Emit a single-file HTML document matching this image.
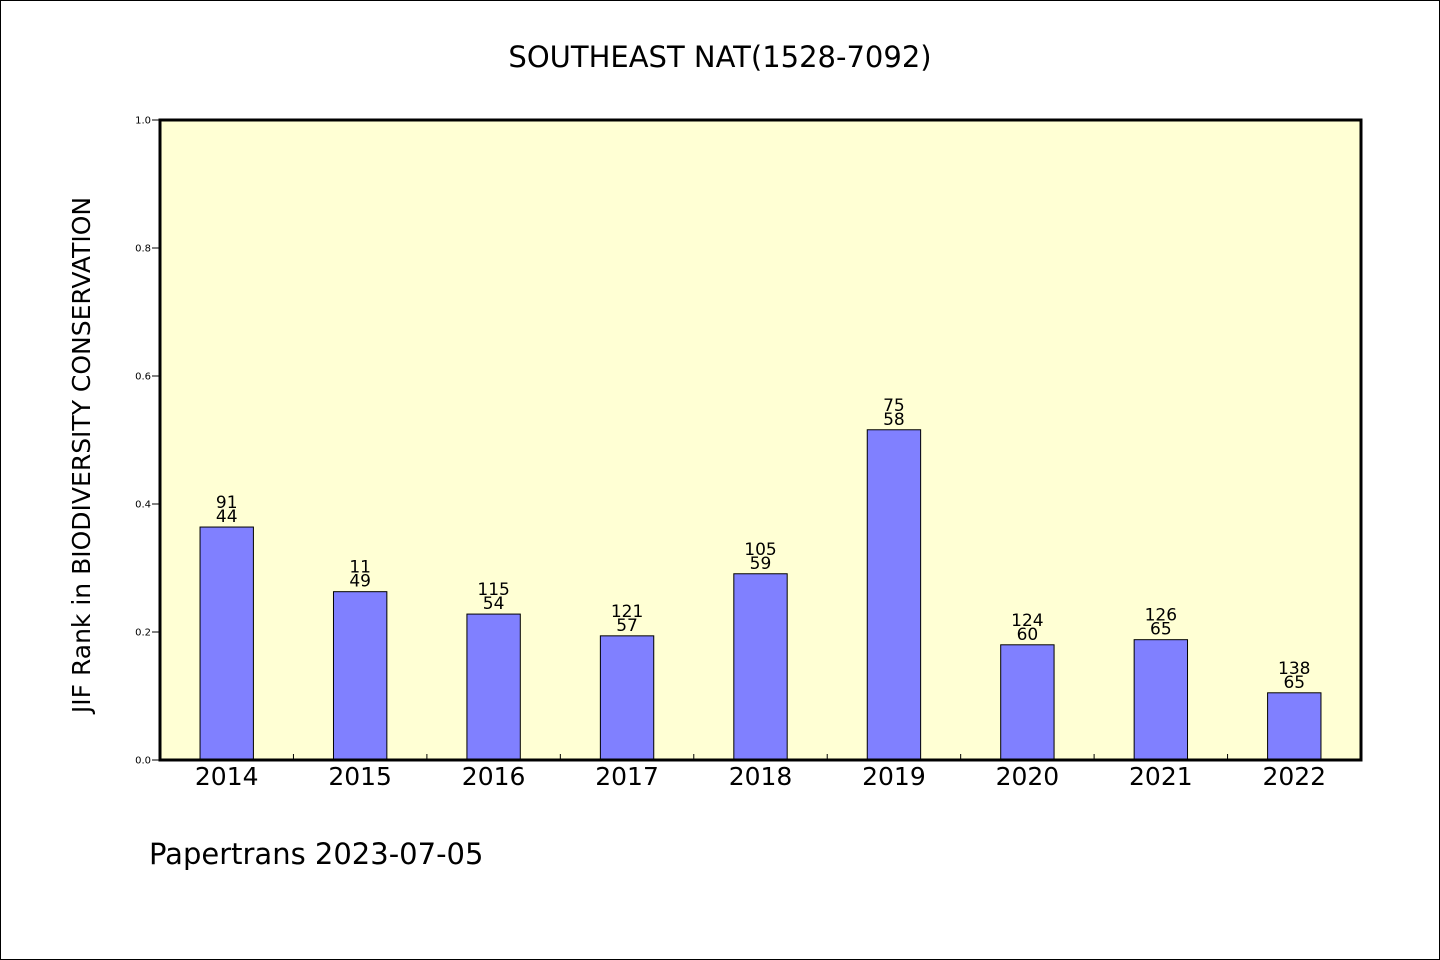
<!DOCTYPE html>
<html><head><meta charset="utf-8"><style>
html,body{margin:0;padding:0;background:#fff}
svg{display:block;font-family:"WenQuanYi Zen Hei","DejaVu Sans",sans-serif}
</style></head><body>
<svg width="1440" height="960" viewBox="0 0 1440 960">
<rect x="0.5" y="0.5" width="1439" height="959" fill="#fff" stroke="#000"/>
<text x="720" y="67" text-anchor="middle" font-size="29">SOUTHEAST NAT(1528-7092)</text>
<rect x="160" y="120" width="1201" height="640" fill="#ffffd4"/>
<g id="yaxis"></g>
<g id="xaxis"></g>
<g id="bars"></g>
<rect x="160" y="120" width="1201" height="640" fill="none" stroke="#000" stroke-width="3"/>
<text transform="translate(90,455) rotate(-90)" text-anchor="middle" font-size="25">JIF Rank in BIODIVERSITY CONSERVATION</text>
<text x="149" y="864" font-size="29">Papertrans 2023-07-05</text>
</svg>
<script>
const categories=["2014","2015","2016","2017","2018","2019","2020","2021","2022"];
const values=[0.364,0.263,0.228,0.194,0.291,0.516,0.180,0.188,0.105];
const rankLabels=["91","11","115","121","105","75","124","126","138"];
const countLabels=["44","49","54","57","59","58","60","65","65"];
const yTicks=[0,0.2,0.4,0.6,0.8,1.0];
const yTickLabels=["0.0","0.2","0.4","0.6","0.8","1.0"];
const NS="http://www.w3.org/2000/svg";
const X0=160,X1=1361,Y0=760,Y1=120;
const slot=(X1-X0)/categories.length;
function yScale(v){return Y0-(v)*(Y0-Y1);}
function xCenter(i){return X0+slot*(i+0.5);}
function mk(tag,attrs,parent){const e=document.createElementNS(NS,tag);for(const k in attrs)e.setAttribute(k,attrs[k]);parent.appendChild(e);return e;}
const ya=document.getElementById('yaxis'),xa=document.getElementById('xaxis'),bg=document.getElementById('bars');
yTicks.forEach((t,i)=>{
  const y=yScale(t);
  const l=mk('line',{x1:152,x2:160,y1:y,y2:y,stroke:'#000','stroke-width':1},ya);
  
  
  const tx=mk('text',{x:151,y:y+3.5,'text-anchor':'end','font-size':10},ya);
  tx.textContent=yTickLabels[i];
  
  
});
for(let i=1;i<categories.length;i++){
  const x=X0+slot*i;
  const l=mk('line',{x1:x,x2:x,y1:Y0,y2:Y0-6,stroke:'#000','stroke-width':1},xa);
  
  
}
categories.forEach((c,i)=>{
  const cx=xCenter(i),w=slot*0.4,y=yScale(values[i]);
  const r=mk('rect',{x:cx-w/2,y:y,width:w,height:Y0-y,fill:'#8080ff',stroke:'#000','stroke-width':1},bg);
  
  
  const t1=mk('text',{x:cx,y:y-19,'text-anchor':'middle','font-size':17},bg);
  t1.textContent=rankLabels[i];
  
  
  const t2=mk('text',{x:cx,y:y-5,'text-anchor':'middle','font-size':17},bg);
  t2.textContent=countLabels[i];
  
  
  const xl=mk('text',{x:cx,y:785,'text-anchor':'middle','font-size':25},xa);
  xl.textContent=c;
  
  
});
</script>
</body></html>
